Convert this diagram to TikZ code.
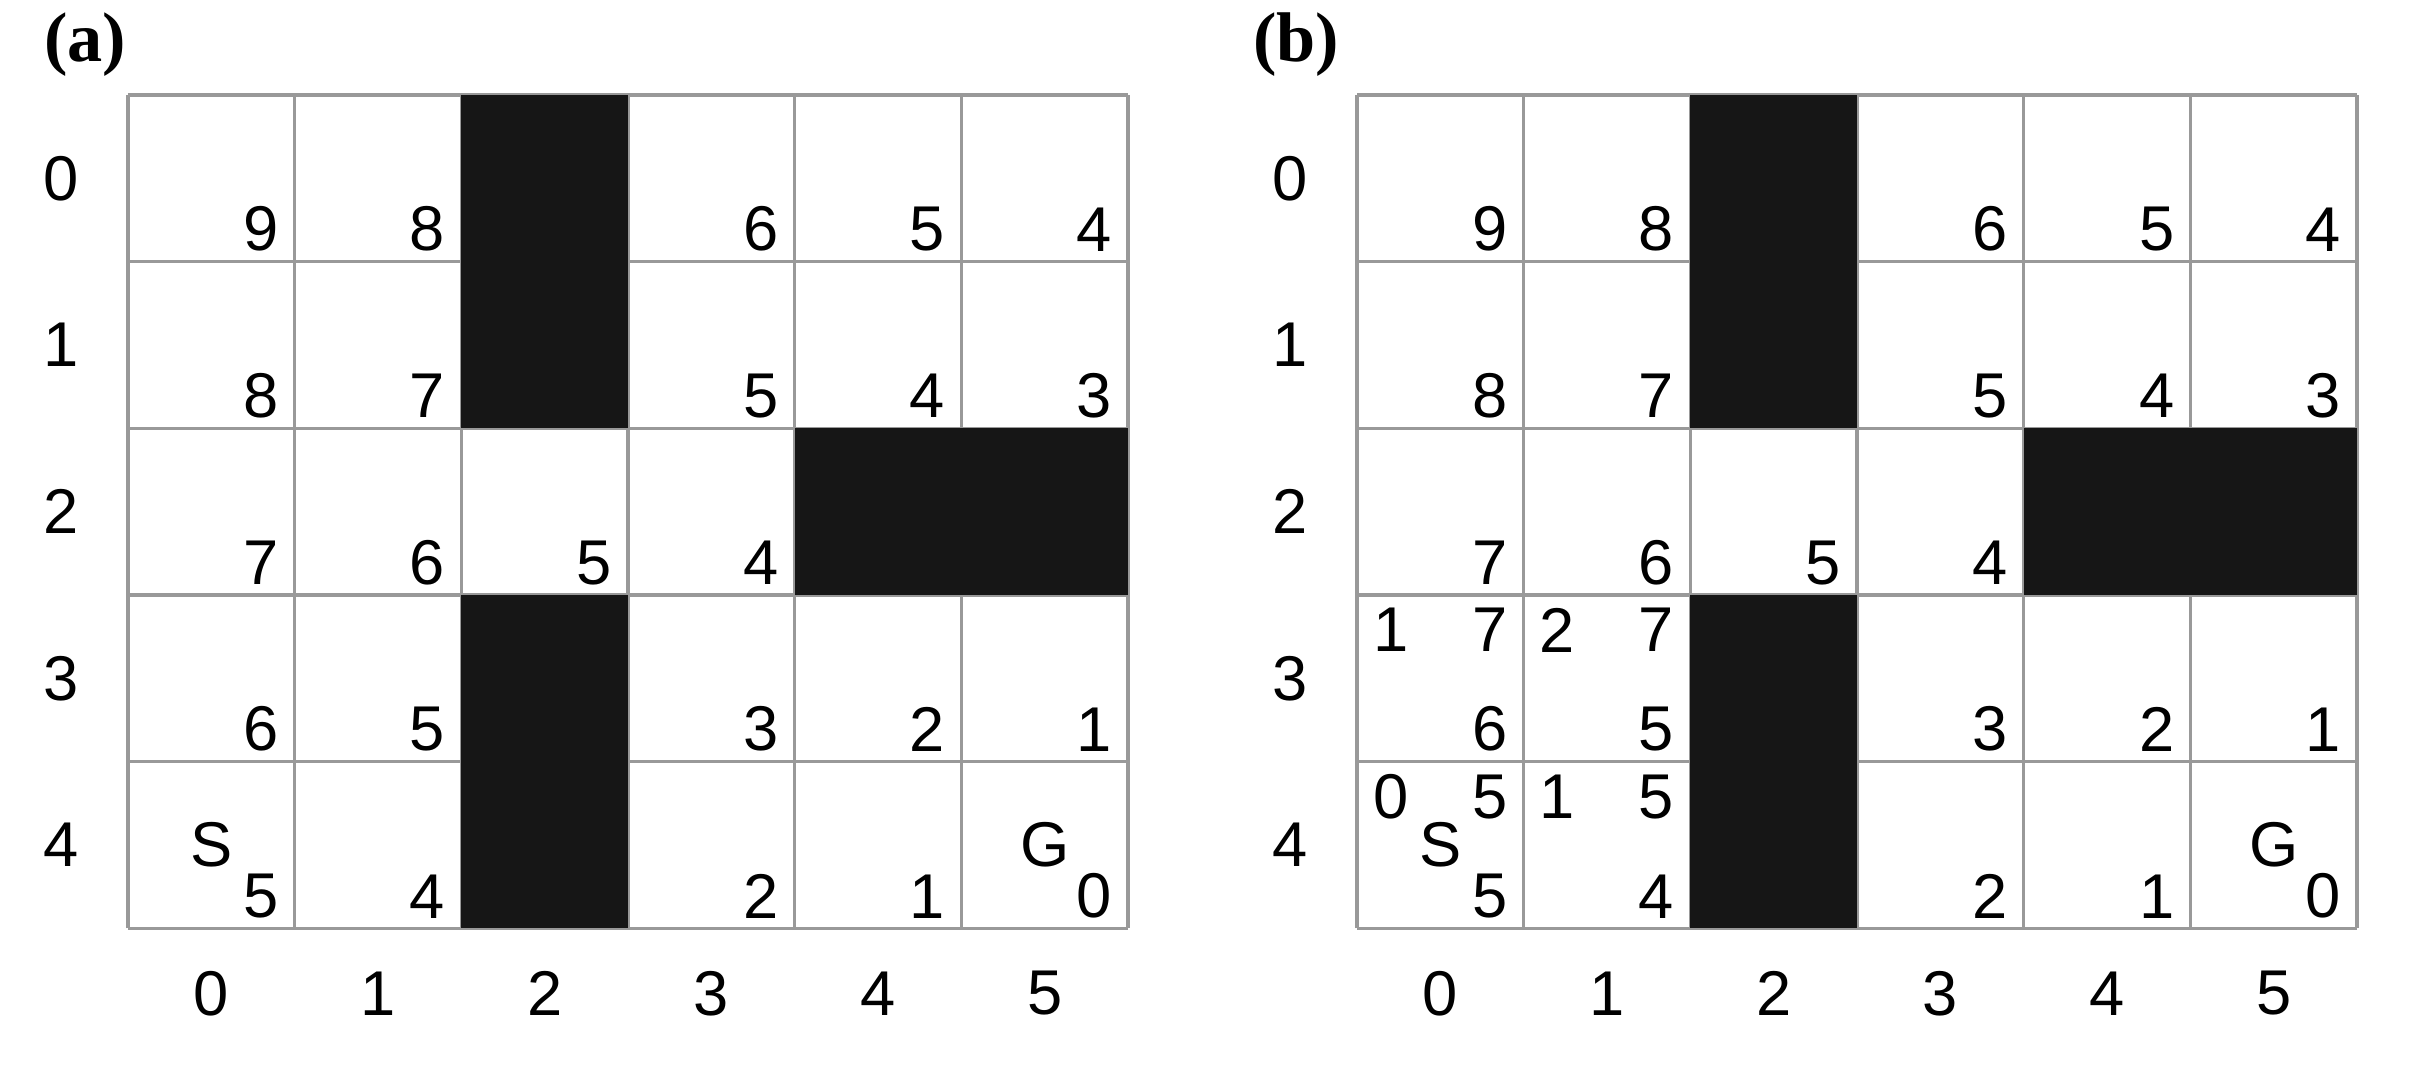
\documentclass[tikz,border=0pt]{standalone}
\usepackage{fontspec}
\setmainfont{Liberation Serif}
\setsansfont{Liberation Sans}
\usepackage{xcolor}
\definecolor{gridgray}{RGB}{153,153,153}
\definecolor{wallblack}{RGB}{22,22,22}

\begin{document}
\begin{tikzpicture}[
    x=1cm, y=-1cm,
    cell/.style={draw=gridgray, line width=0.6pt},
    wall/.style={fill=wallblack},
    num/.style={font=\sffamily\fontsize{10.8}{12}\selectfont, inner sep=0pt},
    br/.style={num, anchor=south east},
    tl/.style={num, anchor=north west},
    tr/.style={num, anchor=north east},
    panel/.style={font=\bfseries\fontsize{12}{14}\selectfont, inner sep=0pt, anchor=west}
]
    \useasboundingbox (-0.768,-0.57) rectangle (13.716,5.84);

    % both panels: same maze, same distances
    \foreach \p/\dx/\lx in {a/0/-0.51, b/7.374/-0.63} {
      \begin{scope}[xshift=\dx cm]
        \node[panel] (\p-lbl) at (\lx,-0.30) {(\p)};
        \fill[white] (0,0) rectangle (6,5);
        \draw[cell] (0,0) grid (6,5);
        \foreach \r/\c in {0/2,1/2,3/2,4/2,2/4,2/5}
          \fill[wall] (\c,\r) rectangle +(1,1);
        \foreach \r in {0,...,4}
          \node[num, anchor=center] (\p-row\r) at (-0.40,\r+0.5) {\r};
        \foreach \c in {0,...,5}
          \node[num, anchor=center] (\p-col\c) at (\c+0.5,5.39) {\c};
        \foreach \row [count=\r from 0] in {{9,8,,6,5,4},{8,7,,5,4,3},{7,6,5,4,,},{6,5,,3,2,1},{5,4,,2,1,0}}
          \foreach \v [count=\c from 0] in \row
            \node[br] (\p-\r-\c) at (\c+0.91,\r+0.945) {\v};
        \node[num, anchor=center] (\p-start) at (0.5,4.5) {S};
        \node[num, anchor=center] (\p-goal) at (5.5,4.5) {G};
      \end{scope}
    }

    % extra values in (b)
    \begin{scope}[xshift=7.374cm]
      \foreach \r/\c/\g/\h in {3/0/1/7, 3/1/2/7, 4/0/0/5, 4/1/1/5} {
        \node[tl] (b-g-\r-\c) at (\c+0.09,\r+0.07) {\g};
        \node[tr] (b-h-\r-\c) at (\c+0.91,\r+0.07) {\h};
      }
    \end{scope}
\end{tikzpicture}
\end{document}
